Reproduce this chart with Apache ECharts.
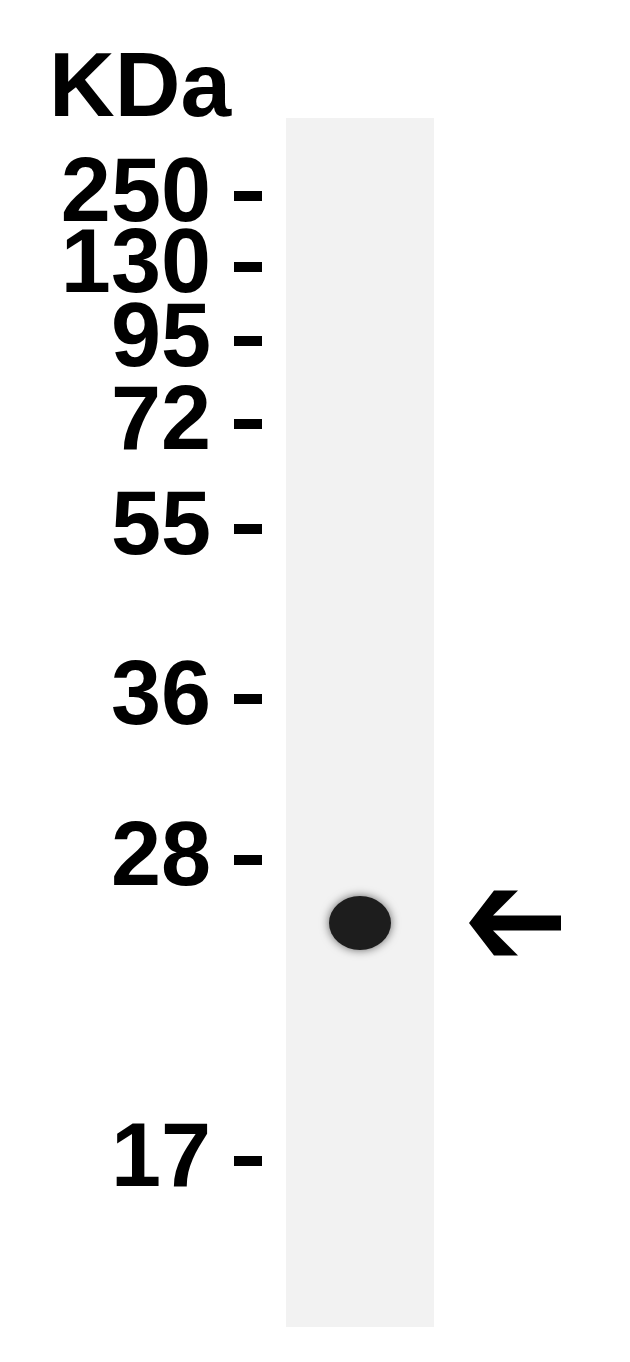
<!DOCTYPE html>
<html>
<head>
<meta charset="utf-8">
<script src="https://cdn.jsdelivr.net/npm/echarts@6/dist/echarts.min.js"></script>
<style>
html,body{margin:0;padding:0;background:#fff;}
#chart{width:630px;height:1362px;}
</style>
</head>
<body>
<div id="chart"></div>
<script>
// Molecular weight markers (kDa) and their migration distance from the top of the lane
const markerLabels = ['250', '130', '95', '72', '55', '36', '28', '17'];
const markerMigration = [78, 149, 223, 306, 411, 581, 742, 1043];
// Lane and detected band
const lanes = ['Lane 1'];
const bandMigration = [805];
const laneLength = 1209;

const chart = echarts.init(document.getElementById('chart'), null, {renderer: 'canvas'});
const FONT = '"Liberation Sans", Arial, sans-serif';

const yAx = (gi) => ({gridIndex: gi, type: 'value', inverse: true, min: 0, max: laneLength, show: false});

const option = {
  backgroundColor: '#ffffff',
  animation: false,
  title: {
    text: 'KDa',
    left: 49, top: 45, padding: 0,
    textStyle: {fontFamily: FONT, fontWeight: 'bold', fontSize: 91, color: '#000'}
  },
  grid: [
    {left: 234, width: 28, top: 118, height: laneLength, show: false},
    {left: 286, width: 148, top: 118, height: laneLength, show: true,
     backgroundColor: '#f2f2f2', borderWidth: 0},
    {left: 460, width: 110, top: 118, height: laneLength, show: false}
  ],
  xAxis: [
    {gridIndex: 0, type: 'category', data: ['Marker'], show: false},
    {gridIndex: 1, type: 'category', data: lanes, show: false},
    {gridIndex: 2, type: 'category', data: ['arrow'], show: false}
  ],
  yAxis: [yAx(0), yAx(1), yAx(2)],
  series: [
    {
      name: 'Marker', type: 'scatter', xAxisIndex: 0, yAxisIndex: 0,
      data: markerMigration.map((m, i) => ({value: ['Marker', m], name: markerLabels[i]})),
      symbol: 'rect', symbolSize: [28, 10],
      itemStyle: {color: '#000', opacity: 1},
      label: {show: true, position: 'left', distance: 23,
              formatter: p => p.name,
              fontFamily: FONT, fontWeight: 'bold', fontSize: 90, color: '#000'},
      labelLayout: {hideOverlap: false},
      clip: false, silent: true
    },
    {
      name: 'Band', type: 'scatter', xAxisIndex: 1, yAxisIndex: 1,
      data: bandMigration.map(m => [lanes[0], m]),
      symbol: 'circle', symbolSize: [62, 54],
      itemStyle: {color: '#1d1d1d', shadowBlur: 10, shadowColor: 'rgba(0,0,0,0.6)', opacity: 1},
      silent: true
    },
    {
      name: 'Arrow', type: 'scatter', xAxisIndex: 2, yAxisIndex: 2,
      data: bandMigration.map(m => ['arrow', m]),
      symbol: 'path://M0,32.5 L25,0 L49,0 L24,25 L92,25 L92,40 L24,40 L49,65 L25,65 Z',
      symbolSize: [92, 65], symbolKeepAspect: false,
      itemStyle: {color: '#000', opacity: 1},
      clip: false, silent: true
    }
  ]
};
chart.setOption(option);
</script>
</body>
</html>
